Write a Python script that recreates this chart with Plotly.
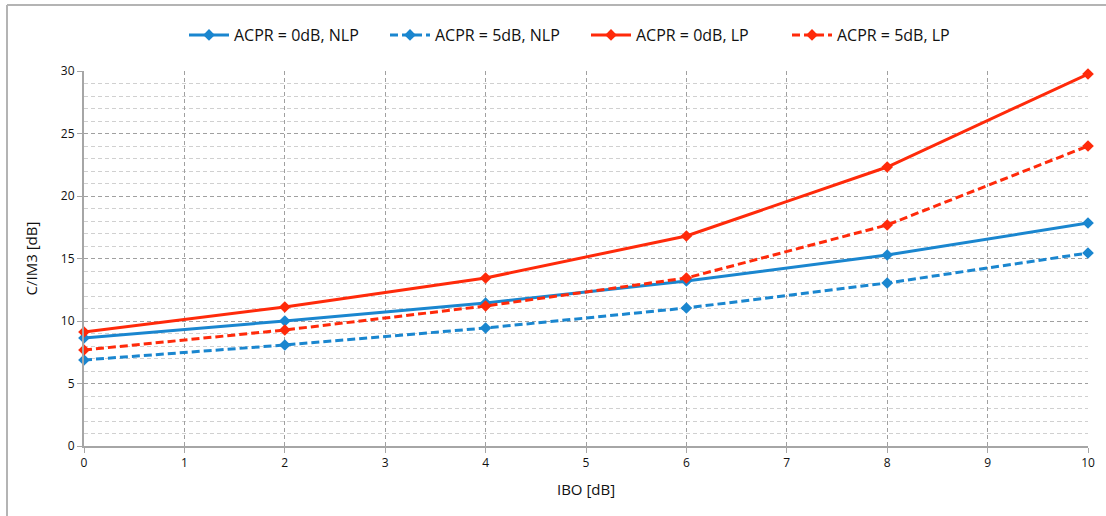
import plotly.graph_objects as go

ibo = [0, 2, 4, 6, 8, 10]
nlp_0db = [8.64, 10.0, 11.44, 13.2, 15.28, 17.84]
nlp_5db = [6.88, 8.08, 9.44, 11.04, 13.04, 15.44]
lp_0db = [9.12, 11.12, 13.44, 16.8, 22.32, 29.76]
lp_5db = [7.68, 9.28, 11.2, 13.44, 17.68, 24.0]

names = ["ACPR = 0dB, NLP", "ACPR = 5dB, NLP", "ACPR = 0dB, LP", "ACPR = 5dB, LP"]
series = [nlp_0db, nlp_5db, lp_0db, lp_5db]
colors = ["#1a86cf", "#1a86cf", "#ff2a0a", "#ff2a0a"]
dashes = ["solid", "8px,4px", "solid", "8px,4px"]

FONT = "Open Sans"

fig = go.Figure()
for n, s, c, d in zip(names, series, colors, dashes):
    fig.add_trace(go.Scatter(
        x=ibo, y=s, name=n, mode="lines+markers",
        line=dict(color=c, width=3, dash=d),
        marker=dict(symbol="diamond", size=9, color=c),
        cliponaxis=False,
    ))

L, R, T, B = 84, 18, 71, 70
W, H = 1106, 516
pw = W - L - R
ph = H - T - B

fig.update_layout(
    width=W, height=H,
    margin=dict(l=L, r=R, t=T, b=B),
    paper_bgcolor="white", plot_bgcolor="white",
    font=dict(family=FONT, color="#111", size=12),
    legend=dict(orientation="h", x=0.5, xanchor="center", y=1.0 + (T - 35) / ph,
                yanchor="middle", font=dict(size=16, family=FONT, color="#111"),
                itemwidth=40, traceorder="normal",
                entrywidth=146, entrywidthmode="pixels"),
    xaxis=dict(
        range=[0, 10], dtick=1, tick0=0,
        showgrid=True, gridcolor="#a0a0a0", griddash="4px,3px", gridwidth=1,
        showline=True, linecolor="#a6a6a6", linewidth=2,
        ticks="outside", ticklen=5, tickcolor="#a6a6a6",
        tickfont=dict(size=12, family=FONT, color="#111"),
        title=dict(text="IBO [dB]", font=dict(size=15, family=FONT, color="#111"), standoff=14),
        zeroline=False,
    ),
    yaxis=dict(
        range=[0, 30], dtick=5, tick0=0,
        showgrid=True, gridcolor="#a0a0a0", griddash="4px,3px", gridwidth=1,
        minor=dict(dtick=1, showgrid=True, gridcolor="#d0d0d0", griddash="4px,3px", gridwidth=1),
        showline=True, linecolor="#a6a6a6", linewidth=2,
        ticks="outside", ticklen=5, tickcolor="#a6a6a6",
        tickfont=dict(size=12, family=FONT, color="#111"),
        title=dict(text="C/IM3 [dB]", font=dict(size=15, family=FONT, color="#111"), standoff=20),
        zeroline=False,
    ),
)

# outer chart frame (top and left edges visible)
fx0 = (7 - L) / pw
fx1 = (W + 5 - L) / pw
fy_top = 1 + (T - 5) / ph
fy_bot = -(B + 5) / ph
fig.add_shape(type="line", xref="paper", yref="paper", x0=fx0, x1=fx1, y0=fy_top, y1=fy_top,
              line=dict(color="#b4b4b4", width=2), layer="above")
fig.add_shape(type="line", xref="paper", yref="paper", x0=fx0, x1=fx0, y0=fy_bot, y1=fy_top,
              line=dict(color="#b4b4b4", width=2), layer="above")

fig.write_html("out.html")
